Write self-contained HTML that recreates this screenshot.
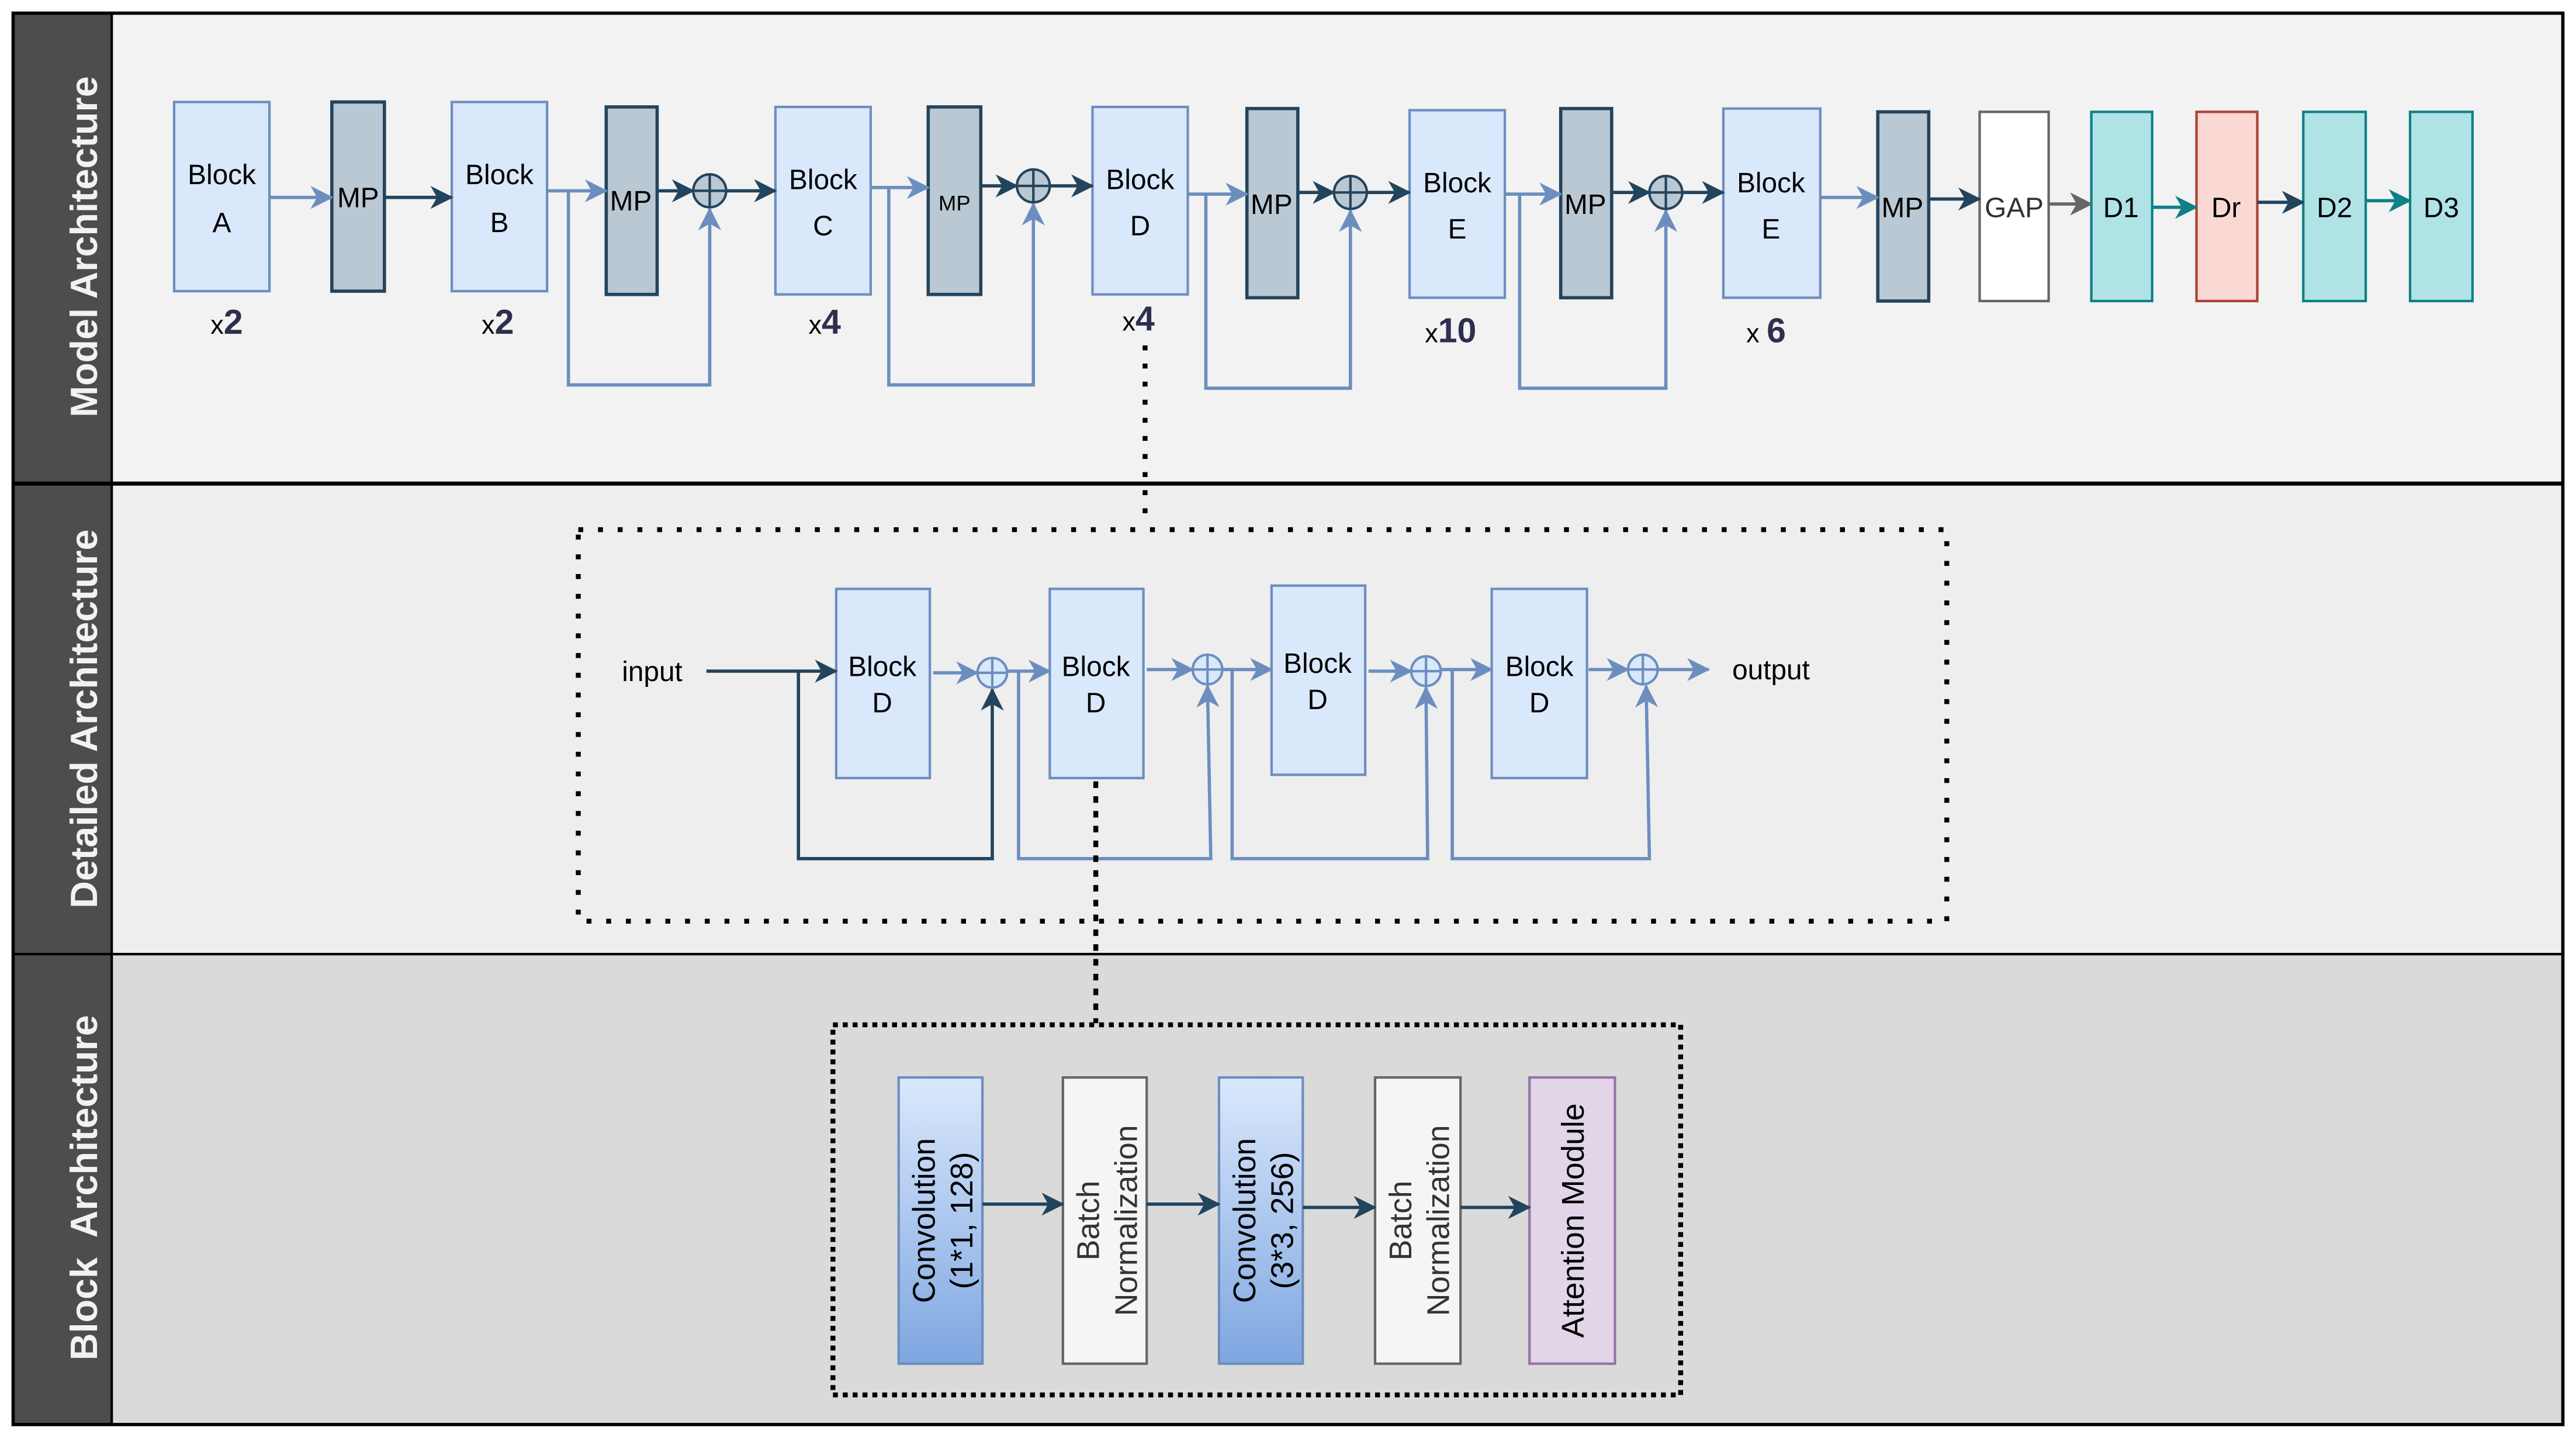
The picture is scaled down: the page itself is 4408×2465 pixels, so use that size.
<!DOCTYPE html>
<html><head><meta charset="utf-8"><style>
html,body{margin:0;padding:0;background:#fff;}
svg{display:block;}
text{font-family:"Liberation Sans",Arial,sans-serif;}
</style></head><body>
<svg width="4408" height="2465" viewBox="0 0 1568 876" preserveAspectRatio="none" xmlns="http://www.w3.org/2000/svg">
<defs>
<marker id="aL" markerWidth="14" markerHeight="14" refX="13" refY="7" orient="auto" markerUnits="userSpaceOnUse"><path d="M0,0 L14,7 L0,14 L4,7 Z" fill="#6c8ebf"/></marker>
<marker id="aD" markerWidth="14" markerHeight="14" refX="13" refY="7" orient="auto" markerUnits="userSpaceOnUse"><path d="M0,0 L14,7 L0,14 L4,7 Z" fill="#23445d"/></marker>
<marker id="aG" markerWidth="14" markerHeight="14" refX="13" refY="7" orient="auto" markerUnits="userSpaceOnUse"><path d="M0,0 L14,7 L0,14 L4,7 Z" fill="#666"/></marker>
<marker id="aT" markerWidth="14" markerHeight="14" refX="13" refY="7" orient="auto" markerUnits="userSpaceOnUse"><path d="M0,0 L14,7 L0,14 L4,7 Z" fill="#0e8088"/></marker>
<linearGradient id="cg" x1="0" y1="0" x2="0" y2="1"><stop offset="0" stop-color="#dae8fc"/><stop offset="1" stop-color="#7ea6e0"/></linearGradient>
</defs>
<rect width="1568" height="876" fill="#fff"/>
<rect x="8" y="8" width="1552" height="286" fill="#f2f2f2"/>
<rect x="8" y="294" width="1552" height="286" fill="#eeeeee"/>
<rect x="8" y="580" width="1552" height="286" fill="#dadada"/>
<rect x="8" y="8" width="60" height="858" fill="#4d4d4d"/>
<line x1="8" y1="294" x2="1560" y2="294" stroke="#000" stroke-width="2.5"/>
<line x1="8" y1="580" x2="1560" y2="580" stroke="#000" stroke-width="1.5"/>
<line x1="68" y1="8" x2="68" y2="866" stroke="#000" stroke-width="1.5"/>
<rect x="8" y="8" width="1552" height="858" fill="none" stroke="#000" stroke-width="2"/>
<g fill="#f2f2f2" font-weight="bold" font-size="23" text-anchor="middle">
<text transform="translate(59,150) rotate(-90)">Model Architecture</text>
<text transform="translate(59,437) rotate(-90)">Detailed Architecture</text>
<text transform="translate(59,722) rotate(-90)" xml:space="preserve">Block  Architecture</text>
</g>

<g fill="#dae8fc" stroke="#6c8ebf" stroke-width="1.5">
<rect x="106" y="62" width="58" height="115"/>
<rect x="275" y="62" width="58" height="115"/>
<rect x="472" y="65" width="58" height="114"/>
<rect x="665" y="65" width="58" height="114"/>
<rect x="858" y="67" width="58" height="114"/>
<rect x="1049" y="66" width="59" height="115"/>
</g>
<g fill="#bac8d3" stroke="#23445d" stroke-width="2">
<rect x="202" y="62" width="32" height="115"/>
<rect x="369" y="65" width="31" height="114"/>
<rect x="565" y="65" width="32" height="114"/>
<rect x="759" y="66" width="31" height="115"/>
<rect x="950" y="66" width="31" height="115"/>
<rect x="1143" y="68" width="31" height="115"/>
</g>
<rect x="1205" y="68" width="42" height="115" fill="#fff" stroke="#666" stroke-width="1.5"/>
<rect x="1273" y="68" width="37" height="115" fill="#b0e3e6" stroke="#0e8088" stroke-width="1.5"/>
<rect x="1337" y="68" width="37" height="115" fill="#fad9d5" stroke="#ae4132" stroke-width="1.5"/>
<rect x="1402" y="68" width="38" height="115" fill="#b0e3e6" stroke="#0e8088" stroke-width="1.5"/>
<rect x="1467" y="68" width="38" height="115" fill="#b0e3e6" stroke="#0e8088" stroke-width="1.5"/>
<g font-size="17" fill="#000" text-anchor="middle">
<text x="135" y="112">Block</text><text x="135" y="141">A</text>
<text x="304" y="112">Block</text><text x="304" y="141">B</text>
<text x="501" y="115">Block</text><text x="501" y="143">C</text>
<text x="694" y="115">Block</text><text x="694" y="143">D</text>
<text x="887" y="117">Block</text><text x="887" y="145">E</text>
<text x="1078" y="117">Block</text><text x="1078" y="145">E</text>
<text x="218" y="126">MP</text>
<text x="384" y="128">MP</text>
<text x="581" y="128" font-size="13">MP</text>
<text x="774" y="130">MP</text>
<text x="965" y="130">MP</text>
<text x="1158" y="132">MP</text>
<text x="1226" y="132" fill="#333">GAP</text>
<text x="1291" y="132">D1</text>
<text x="1355" y="132">Dr</text>
<text x="1421" y="132">D2</text>
<text x="1486" y="132">D3</text>
</g>
<g font-size="16" fill="#000" text-anchor="middle">
<text x="138" y="203">x<tspan font-weight="bold" font-size="21" fill="#2e2e4e">2</tspan></text>
<text x="303" y="203">x<tspan font-weight="bold" font-size="21" fill="#2e2e4e">2</tspan></text>
<text x="502" y="203">x<tspan font-weight="bold" font-size="21" fill="#2e2e4e">4</tspan></text>
<text x="693" y="201">x<tspan font-weight="bold" font-size="21" fill="#2e2e4e">4</tspan></text>
<text x="883" y="208">x<tspan font-weight="bold" font-size="21" fill="#2e2e4e">10</tspan></text>
<text x="1075" y="208">x <tspan font-weight="bold" font-size="21" fill="#2e2e4e">6</tspan></text>
</g>
<g fill="none" stroke-width="2">
<line x1="164" y1="120" x2="202" y2="120" stroke="#6c8ebf" marker-end="url(#aL)"/>
<line x1="234" y1="120" x2="275" y2="120" stroke="#23445d" marker-end="url(#aD)"/>
<line x1="333" y1="116" x2="369" y2="116" stroke="#6c8ebf" marker-end="url(#aL)"/>
<line x1="400" y1="116" x2="422" y2="116" stroke="#23445d" marker-end="url(#aD)"/>
<line x1="442" y1="116" x2="472" y2="116" stroke="#23445d" marker-end="url(#aD)"/>
<polyline points="346,116 346,234 432,234 432,127" stroke="#6c8ebf" marker-end="url(#aL)"/>
<line x1="530" y1="114" x2="565" y2="114" stroke="#6c8ebf" marker-end="url(#aL)"/>
<line x1="597" y1="113" x2="619" y2="113" stroke="#23445d" marker-end="url(#aD)"/>
<line x1="639" y1="113" x2="665" y2="113" stroke="#23445d" marker-end="url(#aD)"/>
<polyline points="541,114 541,234 629,234 629,124" stroke="#6c8ebf" marker-end="url(#aL)"/>
<line x1="723" y1="118" x2="759" y2="118" stroke="#6c8ebf" marker-end="url(#aL)"/>
<line x1="790" y1="117" x2="812" y2="117" stroke="#23445d" marker-end="url(#aD)"/>
<line x1="832" y1="117" x2="858" y2="117" stroke="#23445d" marker-end="url(#aD)"/>
<polyline points="734,118 734,236 822,236 822,128" stroke="#6c8ebf" marker-end="url(#aL)"/>
<line x1="916" y1="118" x2="950" y2="118" stroke="#6c8ebf" marker-end="url(#aL)"/>
<line x1="981" y1="117" x2="1004" y2="117" stroke="#23445d" marker-end="url(#aD)"/>
<line x1="1024" y1="117" x2="1049" y2="117" stroke="#23445d" marker-end="url(#aD)"/>
<polyline points="925,118 925,236 1014,236 1014,128" stroke="#6c8ebf" marker-end="url(#aL)"/>
<line x1="1108" y1="120" x2="1143" y2="120" stroke="#6c8ebf" marker-end="url(#aL)"/>
<line x1="1174" y1="121" x2="1205" y2="121" stroke="#23445d" marker-end="url(#aD)"/>
<line x1="1247" y1="124" x2="1273" y2="124" stroke="#666" marker-end="url(#aG)"/>
<line x1="1310" y1="126" x2="1337" y2="126" stroke="#0e8088" marker-end="url(#aT)"/>
<line x1="1374" y1="123" x2="1402" y2="123" stroke="#23445d" marker-end="url(#aD)"/>
<line x1="1440" y1="122" x2="1467" y2="122" stroke="#0e8088" marker-end="url(#aT)"/>
</g>
<g fill="#bac8d3" stroke="#23445d" stroke-width="1.5">
<circle cx="432" cy="116" r="10"/><path d="M422,116H442M432,106V126"/>
<circle cx="629" cy="113" r="10"/><path d="M619,113H639M629,103V123"/>
<circle cx="822" cy="117" r="10"/><path d="M812,117H832M822,107V127"/>
<circle cx="1014" cy="117" r="10"/><path d="M1004,117H1024M1014,107V127"/>
</g>
<line x1="697" y1="210" x2="697" y2="320" stroke="#000" stroke-width="3" stroke-dasharray="3,8"/>

<rect x="352" y="322" width="833" height="238" fill="none" stroke="#000" stroke-width="3" stroke-dasharray="3,9"/>
<g fill="#dae8fc" stroke="#6c8ebf" stroke-width="1.5">
<rect x="509" y="358" width="57" height="115"/>
<rect x="639" y="358" width="57" height="115"/>
<rect x="774" y="356" width="57" height="115"/>
<rect x="908" y="358" width="58" height="115"/>
</g>
<g font-size="17" fill="#000" text-anchor="middle">
<text x="537" y="411">Block</text><text x="537" y="433">D</text>
<text x="667" y="411">Block</text><text x="667" y="433">D</text>
<text x="802" y="409">Block</text><text x="802" y="431">D</text>
<text x="937" y="411">Block</text><text x="937" y="433">D</text>
<text x="397" y="414">input</text>
<text x="1078" y="413">output</text>
</g>
<g fill="none" stroke-width="2">
<line x1="430" y1="408" x2="509" y2="408" stroke="#23445d" marker-end="url(#aD)"/>
<polyline points="486,408 486,522 604,522 604,419" stroke="#23445d" marker-end="url(#aD)"/>
<line x1="568" y1="409" x2="595" y2="409" stroke="#6c8ebf" marker-end="url(#aL)"/>
<line x1="613" y1="408" x2="639" y2="408" stroke="#6c8ebf" marker-end="url(#aL)"/>
<polyline points="620,408 620,522 737,522 735,417" stroke="#6c8ebf" marker-end="url(#aL)"/>
<line x1="698" y1="407" x2="726" y2="407" stroke="#6c8ebf" marker-end="url(#aL)"/>
<line x1="744" y1="407" x2="774" y2="407" stroke="#6c8ebf" marker-end="url(#aL)"/>
<polyline points="750,407 750,522 869,522 868,418" stroke="#6c8ebf" marker-end="url(#aL)"/>
<line x1="833" y1="408" x2="859" y2="408" stroke="#6c8ebf" marker-end="url(#aL)"/>
<line x1="877" y1="407" x2="908" y2="407" stroke="#6c8ebf" marker-end="url(#aL)"/>
<polyline points="884,407 884,522 1004,522 1002,417" stroke="#6c8ebf" marker-end="url(#aL)"/>
<line x1="967" y1="407" x2="991" y2="407" stroke="#6c8ebf" marker-end="url(#aL)"/>
<line x1="1009" y1="407" x2="1040" y2="407" stroke="#6c8ebf" marker-end="url(#aL)"/>
</g>
<g fill="#dae8fc" stroke="#6c8ebf" stroke-width="1.5">
<circle cx="604" cy="409" r="9"/><path d="M595,409H613M604,400V418"/>
<circle cx="735" cy="407" r="9"/><path d="M726,407H744M735,398V416"/>
<circle cx="868" cy="408" r="9"/><path d="M859,408H877M868,399V417"/>
<circle cx="1000" cy="407" r="9"/><path d="M991,407H1009M1000,398V416"/>
</g>
<line x1="667" y1="475" x2="667" y2="622" stroke="#000" stroke-width="3" stroke-dasharray="4,5"/>

<rect x="507" y="623" width="516" height="225" fill="none" stroke="#000" stroke-width="3" stroke-dasharray="3,3"/>
<rect x="547" y="655" width="51" height="174" fill="url(#cg)" stroke="#6c8ebf" stroke-width="1.5"/>
<rect x="647" y="655" width="51" height="174" fill="#f5f5f5" stroke="#666" stroke-width="1.5"/>
<rect x="742" y="655" width="51" height="174" fill="url(#cg)" stroke="#6c8ebf" stroke-width="1.5"/>
<rect x="837" y="655" width="52" height="174" fill="#f5f5f5" stroke="#666" stroke-width="1.5"/>
<rect x="931" y="655" width="52" height="174" fill="#e1d5e7" stroke="#9673a6" stroke-width="1.5"/>
<g font-size="19" fill="#000" text-anchor="middle">
<text transform="translate(569,742) rotate(-90)">Convolution</text>
<text transform="translate(592,742) rotate(-90)">(1*1, 128)</text>
<text transform="translate(669,742) rotate(-90)" fill="#333">Batch</text>
<text transform="translate(692,742) rotate(-90)" fill="#333">Normalization</text>
<text transform="translate(764,742) rotate(-90)">Convolution</text>
<text transform="translate(787,742) rotate(-90)">(3*3, 256)</text>
<text transform="translate(859,742) rotate(-90)" fill="#333">Batch</text>
<text transform="translate(882,742) rotate(-90)" fill="#333">Normalization</text>
<text transform="translate(964,742) rotate(-90)">Attention Module</text>
</g>
<g fill="none" stroke="#23445d" stroke-width="2">
<line x1="598" y1="732" x2="647" y2="732" marker-end="url(#aD)"/>
<line x1="698" y1="732" x2="742" y2="732" marker-end="url(#aD)"/>
<line x1="793" y1="734" x2="837" y2="734" marker-end="url(#aD)"/>
<line x1="889" y1="734" x2="931" y2="734" marker-end="url(#aD)"/>
</g>
</svg>
</body></html>
